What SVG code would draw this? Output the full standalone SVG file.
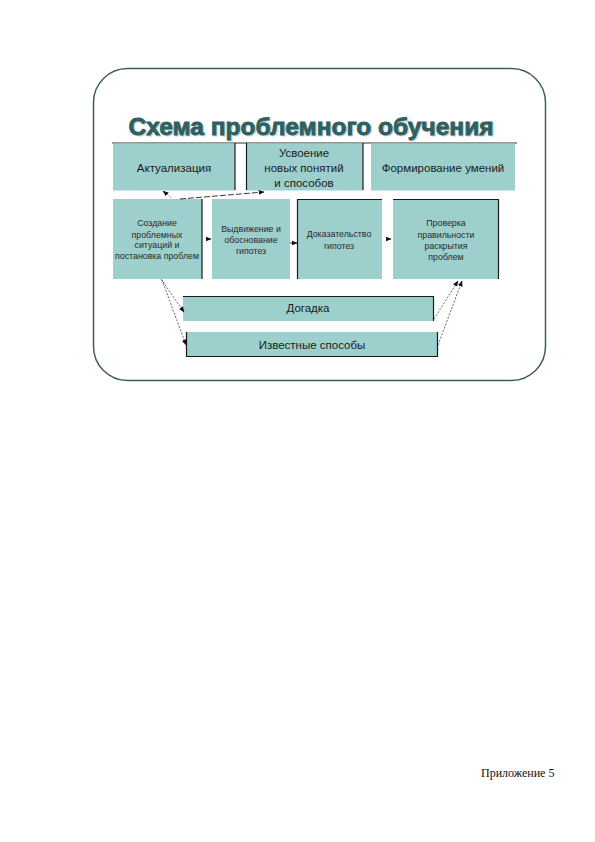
<svg xmlns="http://www.w3.org/2000/svg" width="595" height="842" viewBox="0 0 595 842">
<style>
.box{fill:#9dcfcc}
.edge{stroke:#1a1a1a;stroke-width:1.2;fill:none}
.t{font-family:"Liberation Sans",Arial,sans-serif;fill:#1a1a1a;text-anchor:middle}
.m{font-size:11.5px}
.s{font-size:8.8px;fill:#2a2a2a}
.ttl{font-family:"Liberation Sans",Arial,sans-serif;font-weight:bold;font-size:24px;text-anchor:middle;stroke-width:0.8}
.c{stroke:#222;stroke-width:0.7;fill:none;stroke-dasharray:2,1.5}
</style>
<defs>
<marker id="ahs" viewBox="0 0 10 10" refX="9" refY="5" markerWidth="6" markerHeight="6" orient="auto" markerUnits="userSpaceOnUse">
<path d="M0,1 L10,5 L0,9 z" fill="#111"/>
</marker>
</defs>
<rect width="595" height="842" fill="#fff"/>
<rect id="frame" x="93.5" y="68.5" width="452" height="312" rx="34" ry="34" fill="none" stroke="#3d5e5e" stroke-width="1.5"/>
<g id="title">
<text class="ttl" x="311" y="135" fill="#c3d6d6" stroke="#c3d6d6" textLength="365" lengthAdjust="spacingAndGlyphs" transform="translate(1.2,1.2)">Схема проблемного обучения</text>
<text class="ttl" x="311" y="135" fill="#2f6060" stroke="#2f6060" textLength="365" lengthAdjust="spacingAndGlyphs">Схема проблемного обучения</text>
<line x1="112" y1="143" x2="517" y2="143" stroke="#333" stroke-width="1"/>
</g>
<g id="n1">
<rect class="box" x="113" y="143.5" width="122" height="47"/>
<line class="edge" x1="235" y1="143" x2="235" y2="190"/>
<text class="t m" x="174" y="172">Актуализация</text>
</g>
<g id="n2">
<rect class="box" x="246" y="143.5" width="117" height="47"/>
<line class="edge" x1="246.5" y1="143" x2="246.5" y2="190"/>
<line class="edge" x1="363" y1="143" x2="363" y2="190"/>
<text class="t m" x="304" y="157">Усвоение</text>
<text class="t m" x="304" y="172">новых понятий</text>
<text class="t m" x="304" y="187">и способов</text>
</g>
<g id="n3">
<rect class="box" x="371" y="143.5" width="144" height="47"/>
<text class="t m" x="443" y="172">Формирование умений</text>
</g>
<g id="n4">
<rect class="box" x="113" y="199" width="89" height="80"/>
<line class="edge" x1="202" y1="199" x2="202" y2="279"/>
<text class="t s" x="157" y="226">Создание</text>
<text class="t s" x="157" y="237.5">проблемных</text>
<text class="t s" x="157" y="248">ситуаций и</text>
<text class="t s" x="157" y="259">постановка проблем</text>
</g>
<g id="n5">
<rect class="box" x="212" y="199" width="78" height="80"/>
<text class="t s" x="251" y="232">Выдвижение и</text>
<text class="t s" x="251" y="243">обоснование</text>
<text class="t s" x="251" y="254">гипотез</text>
</g>
<g id="n6">
<rect class="box" x="297" y="199" width="85" height="80"/>
<path class="edge" d="M297.5,279 V199.5 H382"/>
<text class="t s" x="339" y="237">Доказательство</text>
<text class="t s" x="339" y="249">гипотез</text>
</g>
<g id="n7">
<rect class="box" x="393" y="199" width="106" height="80"/>
<path class="edge" d="M393,199.5 H498.5 V279"/>
<text class="t s" x="446" y="226">Проверка</text>
<text class="t s" x="446" y="238">правильности</text>
<text class="t s" x="446" y="249">раскрытия</text>
<text class="t s" x="446" y="260">проблем</text>
</g>
<g id="n8">
<rect class="box" x="183" y="296" width="251" height="25"/>
<path class="edge" d="M183,296.5 H433.5 V321"/>
<text class="t m" x="308" y="312">Догадка</text>
</g>
<g id="n9">
<rect class="box" x="186" y="332" width="252" height="25"/>
<path class="edge" d="M186.5,332 V356.5 H437.5 V332"/>
<text class="t m" x="312" y="349">Известные способы</text>
</g>
<g id="connectors">
<line x1="172" y1="198" x2="163" y2="191" stroke="#999" stroke-width="0.7" marker-end="url(#ahs)"/>
<line x1="180" y1="199" x2="264" y2="192" stroke="#222" stroke-width="0.9" stroke-dasharray="6,2" marker-end="url(#ahs)"/>
<line x1="206" y1="239" x2="211" y2="239" stroke="#222" stroke-width="0.7" marker-end="url(#ahs)"/>
<line x1="290" y1="243" x2="297" y2="243" stroke="#222" stroke-width="0.9" marker-end="url(#ahs)"/>
<line x1="386" y1="239" x2="391" y2="239" stroke="#222" stroke-width="0.7" marker-end="url(#ahs)"/>
<line class="c" x1="161" y1="279" x2="184" y2="312" marker-end="url(#ahs)"/>
<line class="c" x1="162" y1="280" x2="186" y2="345" marker-end="url(#ahs)"/>
<line class="c" x1="434" y1="319" x2="458" y2="281" marker-end="url(#ahs)"/>
<line class="c" x1="438" y1="345" x2="462" y2="281" marker-end="url(#ahs)"/>
</g>
<text id="appendix" x="481" y="777" font-family="'Liberation Serif','Times New Roman',serif" font-size="12" fill="#111">Приложение 5</text>
</svg>
